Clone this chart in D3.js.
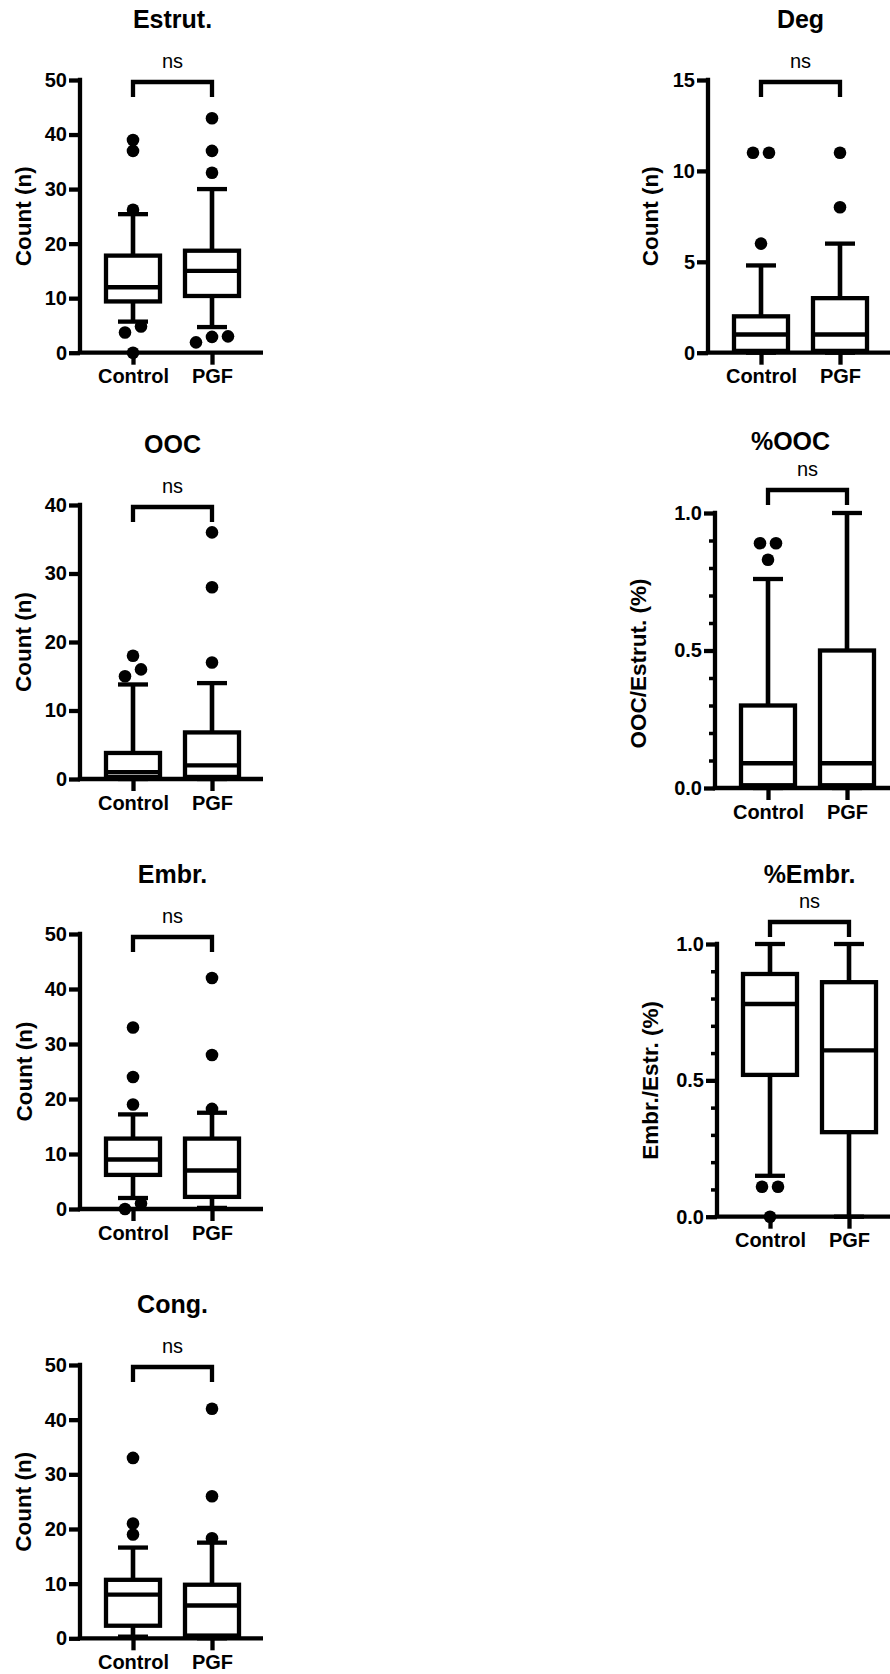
<!DOCTYPE html>
<html><head><meta charset="utf-8">
<script src="https://cdn.jsdelivr.net/npm/d3@7"></script>
<style>html,body{margin:0;padding:0;background:#fff;} svg{display:block;}</style>
</head><body><svg id="chart" width="890" height="1674"></svg>
<script>
// ---------- DATA ----------
const groups = ["Control", "PGF"];
const panelTitles = ["Estrut.", "Deg", "OOC", "%OOC", "Embr.", "%Embr.", "Cong."];
const yAxisTitles = ["Count (n)", "Count (n)", "Count (n)", "OOC/Estrut. (%)", "Count (n)", "Embr./Estr. (%)", "Count (n)"];
const sigLabels = ["ns", "ns", "ns", "ns", "ns", "ns", "ns"];
const yMax = [50, 15, 40, 1, 50, 1, 50];
const ticksCount50 = [0, 10, 20, 30, 40, 50];
const ticksDeg = [0, 5, 10, 15];
const ticksOOC = [0, 10, 20, 30, 40];
const ticksPct = [0.0, 0.5, 1.0];
const minorTicksPct = [0.1, 0.2, 0.3, 0.4, 0.6, 0.7, 0.8, 0.9];

// box summaries per group: [whisker low, Q1, median, Q3, whisker high]
const estrutBoxes = [[5.7, 9.4, 12, 17.8, 25.4], [4.7, 10.4, 15, 18.7, 30]];
const estrutOutliers = [[39, 37, 26.2, 4.8, 3.7, 0], [43, 37, 33, 3, 2.9, 1.9]];
const degBoxes = [[0, 0.1, 1, 2, 4.8], [0, 0.1, 1, 3, 6]];
const degOutliers = [[11, 11, 6], [11, 8]];
const oocBoxes = [[0, 0.3, 1, 3.8, 13.8], [0, 0.3, 2, 6.8, 14]];
const oocOutliers = [[18, 16, 15], [36, 28, 17]];
const pctOocBoxes = [[0, 0.01, 0.09, 0.3, 0.76], [0, 0.01, 0.09, 0.5, 1.0]];
const pctOocOutliers = [[0.89, 0.89, 0.83], []];
const embrBoxes = [[2, 6.2, 9, 12.8, 17.2], [0.2, 2.2, 7, 12.8, 17.5]];
const embrOutliers = [[33, 24, 19, 1, 0], [42, 28, 18.2]];
const pctEmbrBoxes = [[0.15, 0.52, 0.78, 0.89, 1.0], [0, 0.31, 0.61, 0.86, 1.0]];
const pctEmbrOutliers = [[0.11, 0.11, 0], []];
const congBoxes = [[0.3, 2.3, 8, 10.7, 16.6], [0, 0.5, 6, 9.8, 17.5]];
const congOutliers = [[33, 21, 19], [42, 26, 18.3]];

const panelBoxes = [estrutBoxes, degBoxes, oocBoxes, pctOocBoxes, embrBoxes, pctEmbrBoxes, congBoxes];
const panelOutliers = [estrutOutliers, degOutliers, oocOutliers, pctOocOutliers, embrOutliers, pctEmbrOutliers, congOutliers];
const panelTicks = [ticksCount50, ticksDeg, ticksOOC, ticksPct, ticksCount50, ticksPct, ticksCount50];
const panelMinor = [[], [], [], minorTicksPct, [], minorTicksPct, []];

// ---------- LAYOUT ----------
const FONT = '"Liberation Sans", Arial, Helvetica, sans-serif';
const layout = [
  {ax: 80,  top: 80,   base: 352.7, fmt: "d",   ytx: -57, yty: 0,  titleDx: 0,   titleDy: -52, brk: 2},
  {ax: 708, top: 80,   base: 352.7, fmt: "d",   ytx: -58, yty: 0,  titleDx: 0,   titleDy: -52, brk: 2},
  {ax: 80,  top: 505,  base: 779,   fmt: "d",   ytx: -57, yty: 0,  titleDx: 0,   titleDy: -52, brk: 2},
  {ax: 715, top: 513,  base: 788,   fmt: ".1f", ytx: -77, yty: 13, titleDx: -17, titleDy: -63, brk: -23},
  {ax: 80,  top: 934,  base: 1209,  fmt: "d",   ytx: -56, yty: 0,  titleDx: 0,   titleDy: -51, brk: 3},
  {ax: 717, top: 944,  base: 1216.7,fmt: ".1f", ytx: -67, yty: 0,  titleDx: 0,   titleDy: -61, brk: -22},
  {ax: 80,  top: 1365, base: 1638.3,fmt: "d",   ytx: -57, yty: 0,  titleDx: 0,   titleDy: -52, brk: 2}
];
const SW = 4.3;

function swarm(vals, y) {
  const pts = vals.map(v => ({v, py: y(v)})).sort((a, b) => a.v - b.v);
  const clusters = []; let cur = [];
  pts.forEach(p => {
    if (cur.length && Math.abs(p.py - cur[cur.length - 1].py) >= 8) { clusters.push(cur); cur = []; }
    cur.push(p);
  });
  if (cur.length) clusters.push(cur);
  clusters.forEach(c => c.forEach((p, k) => p.dx = (k - (c.length - 1) / 2) * 16));
  return pts;
}

const svg = d3.select("#chart").attr("font-family", FONT);

panelTitles.forEach((title, i) => {
  const L = layout[i];
  const y = d3.scaleLinear().domain([0, yMax[i]]).range([L.base, L.top]);
  const x = d3.scalePoint().domain(groups).range([L.ax + 53, L.ax + 132]);
  const g = svg.append("g");
  const mid = (x(groups[0]) + x(groups[1])) / 2;

  // minor ticks
  if (panelMinor[i].length) {
    const mn = g.append("g").attr("transform", `translate(${L.ax},0)`)
      .call(d3.axisLeft(y).tickValues(panelMinor[i]).tickSize(6).tickSizeOuter(0).tickFormat(""));
    mn.select(".domain").remove();
    mn.selectAll(".tick line").attr("stroke", "#000").attr("stroke-width", 3.5);
  }
  // major ticks + labels
  const ya = g.append("g").attr("transform", `translate(${L.ax},0)`)
    .call(d3.axisLeft(y).tickValues(panelTicks[i]).tickSize(11).tickSizeOuter(0).tickPadding(2).tickFormat(d3.format(L.fmt)));
  ya.attr("font-family", FONT).attr("font-size", 20).attr("font-weight", "bold");
  ya.select(".domain").remove();
  ya.selectAll(".tick line").attr("stroke", "#000").attr("stroke-width", SW);
  ya.selectAll(".tick text").attr("fill", "#000");

  // y axis line
  g.append("line").attr("x1", L.ax).attr("x2", L.ax).attr("y1", y(yMax[i]) - SW / 2).attr("y2", L.base)
    .attr("stroke", "#000").attr("stroke-width", SW);
  // x axis line
  g.append("line").attr("x1", L.ax - SW / 2).attr("x2", L.ax + 183).attr("y1", L.base).attr("y2", L.base)
    .attr("stroke", "#000").attr("stroke-width", SW);
  // x axis ticks + labels
  const xa = g.append("g").attr("transform", `translate(0,${L.base})`)
    .call(d3.axisBottom(x).tickSize(12).tickSizeOuter(0).tickPadding(7));
  xa.select(".domain").remove();
  xa.attr("font-family", FONT).attr("font-size", 20).attr("font-weight", "bold");
  xa.selectAll(".tick line").attr("stroke", "#000").attr("stroke-width", SW);
  xa.selectAll(".tick text").attr("fill", "#000").attr("dy", null).attr("y", 30.5);

  // boxes
  const boxes = panelBoxes[i];
  groups.forEach((grp, k) => {
    const [lo, q1, md, q3, hi] = boxes[k];
    const cx = x(grp);
    const bg = g.append("g");
    bg.append("line").attr("x1", cx).attr("x2", cx).attr("y1", y(q3)).attr("y2", y(hi)).attr("stroke", "#000").attr("stroke-width", 4.6);
    bg.append("line").attr("x1", cx).attr("x2", cx).attr("y1", y(q1)).attr("y2", y(lo)).attr("stroke", "#000").attr("stroke-width", 4.6);
    bg.append("line").attr("x1", cx - 15).attr("x2", cx + 15).attr("y1", y(hi)).attr("y2", y(hi)).attr("stroke", "#000").attr("stroke-width", SW);
    bg.append("line").attr("x1", cx - 15).attr("x2", cx + 15).attr("y1", y(lo)).attr("y2", y(lo)).attr("stroke", "#000").attr("stroke-width", SW);
    bg.append("rect").attr("x", cx - 27).attr("width", 54).attr("y", y(q3)).attr("height", Math.max(0, y(q1) - y(q3)))
      .attr("fill", "#fff").attr("stroke", "#000").attr("stroke-width", SW);
    bg.append("line").attr("x1", cx - 27).attr("x2", cx + 27).attr("y1", y(md)).attr("y2", y(md)).attr("stroke", "#000").attr("stroke-width", SW);
  });
  // outliers
  groups.forEach((grp, k) => {
    const pts = swarm(panelOutliers[i][k], y);
    g.selectAll(null).data(pts).enter().append("circle")
      .attr("cx", d => x(grp) + d.dx).attr("cy", d => d.py).attr("r", 6.3).attr("fill", "#000");
  });

  // bracket + ns
  const by = L.top + L.brk;
  g.append("path").attr("d", `M${x(groups[0])},${by + 15}V${by}H${x(groups[1])}V${by + 15}`)
    .attr("fill", "none").attr("stroke", "#000").attr("stroke-width", SW);
  g.append("text").attr("x", mid).attr("y", by - 14).attr("text-anchor", "middle")
    .attr("font-size", 20).attr("fill", "#000").text(sigLabels[i]);

  // title
  g.append("text").attr("x", mid + L.titleDx).attr("y", L.top + L.titleDy).attr("text-anchor", "middle")
    .attr("font-size", 25).attr("font-weight", "bold").attr("fill", "#000").text(title);

  // y axis title
  const ty = (L.top + L.base) / 2 + L.yty;
  g.append("text").attr("transform", `translate(${L.ax + L.ytx},${ty}) rotate(-90)`)
    .attr("text-anchor", "middle").attr("dy", "0.36em")
    .attr("font-size", 22.5).attr("font-weight", "bold").attr("fill", "#000").text(yAxisTitles[i]);
});
</script>
</body></html>
